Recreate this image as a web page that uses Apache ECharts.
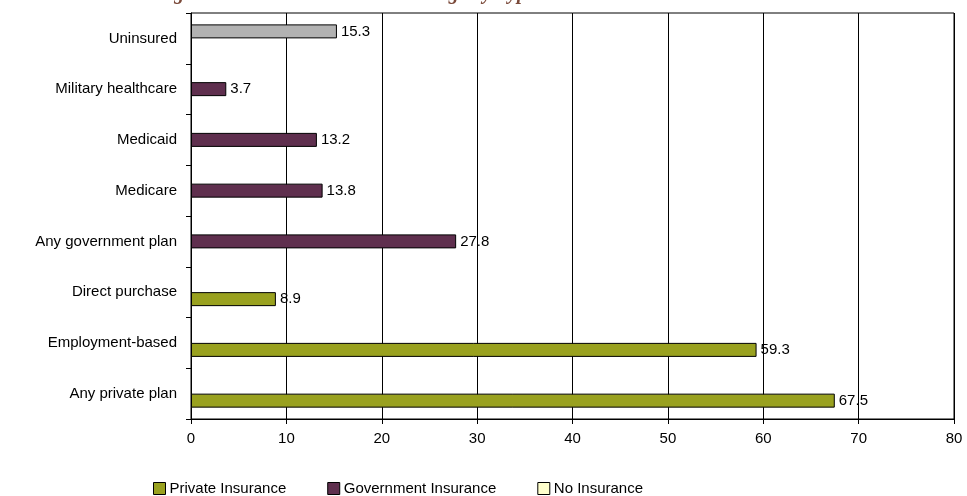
<!DOCTYPE html>
<html>
<head>
<meta charset="utf-8">
<script src="https://cdn.jsdelivr.net/npm/echarts@6/dist/echarts.min.js"></script>
<style>
  html, body { margin: 0; padding: 0; background: #fff; }
  #chart { width: 967px; height: 496px; }
</style>
</head>
<body>
<div id="chart"></div>
<script>
// categories, bottom to top
var categories = ['Any private plan', 'Employment-based', 'Direct purchase', 'Any government plan',
                  'Medicare', 'Medicaid', 'Military healthcare', 'Uninsured'];
var privateValues    = [67.5, 59.3, 8.9, '-', '-', '-', '-', '-'];
var governmentValues = ['-', '-', '-', 27.8, 13.8, 13.2, 3.7, '-'];
var uninsuredValues  = ['-', '-', '-', '-', '-', '-', '-', 15.3];
var xTicks = [0, 10, 20, 30, 40, 50, 60, 70, 80];

var myChart = echarts.init(document.getElementById('chart'));

var labelStyle = {
    show: true,
    position: 'right',
    distance: 4,
    color: '#000',
    fontSize: 15,
    fontFamily: 'Liberation Sans, Arial'
};

var option = {
    animation: false,
    title: {
        // only the bottom of the title is inside the picture
        text: 'Percentage with Health Insurance Coverage by Type',
        left: 96,
        top: -21,
        textStyle: {
            fontFamily: 'Liberation Serif',
            fontStyle: 'italic',
            fontWeight: 'bold',
            fontSize: 20,
            color: '#7b4a3a'
        }
    },
    legend: {
        data: ['Private Insurance', 'Government Insurance', 'No Insurance'],
        left: 148,
        top: 476,
        itemWidth: 12,
        itemHeight: 12,
        itemGap: 41,
        icon: 'rect',
        itemStyle: { borderColor: '#000', borderWidth: 1 },
        textStyle: { fontSize: 15, color: '#000', fontFamily: 'Liberation Sans, Arial', padding: [0, 0, 0, -1] }
    },
    grid: {
        left: 191,
        right: 13,
        top: 13,
        bottom: 77,
        show: true,
        borderColor: '#000',
        borderWidth: 1
    },
    xAxis: {
        type: 'value',
        min: 0,
        max: 80,
        interval: 10,
        axisLine: { show: true, lineStyle: { color: '#000' } },
        axisTick: { show: true, length: 5, lineStyle: { color: '#000' } },
        axisLabel: {
            margin: 12,
            fontSize: 15,
            color: '#000',
            fontFamily: 'Liberation Sans, Arial',
            formatter: function (v) { return xTicks.indexOf(v) >= 0 ? String(v) : ''; }
        },
        splitLine: { show: true, lineStyle: { color: '#000', width: 1 } }
    },
    yAxis: {
        type: 'category',
        data: categories,
        axisLine: { show: true, lineStyle: { color: '#000' } },
        axisTick: { show: true, length: 5, lineStyle: { color: '#000' } },
        axisLabel: {
            margin: 14,
            fontSize: 15,
            color: '#000',
            fontFamily: 'Liberation Sans, Arial'
        }
    },
    series: [
        {
            name: 'No Insurance',
            type: 'bar',
            data: uninsuredValues.map(function (v) {
                return v === '-' ? v : { value: v, itemStyle: { color: '#b2b2b2' } };
            }),
            barWidth: 14,
            barGap: '-50%',
            itemStyle: { color: '#ffffcc', borderColor: '#000', borderWidth: 1 },
            label: labelStyle
        },
        {
            name: 'Government Insurance',
            type: 'bar',
            data: governmentValues,
            barWidth: 14,
            barGap: '-50%',
            itemStyle: { color: '#5f2f4e', borderColor: '#000', borderWidth: 1 },
            label: labelStyle
        },
        {
            name: 'Private Insurance',
            type: 'bar',
            data: privateValues,
            barWidth: 14,
            barGap: '-50%',
            itemStyle: { color: '#99a11f', borderColor: '#000', borderWidth: 1 },
            label: labelStyle
        }
    ]
};
myChart.setOption(option);
</script>
</body>
</html>
